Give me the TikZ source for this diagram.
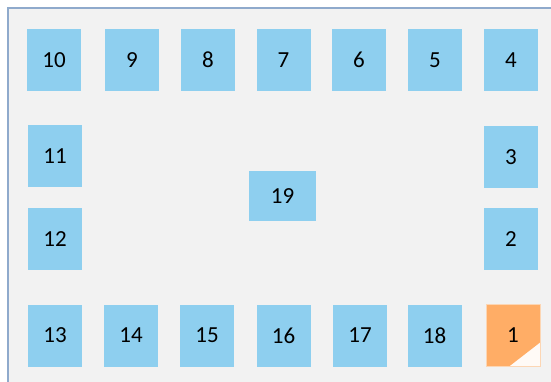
\documentclass[tikz,border=0pt]{standalone}
\usepackage{fontspec}
\setmainfont{Carlito}
\usepackage{tikz}
\usetikzlibrary{positioning, calc}
\definecolor{roomgray}{RGB}{242, 242, 242}
\definecolor{roomborder}{RGB}{143, 170, 204}
\definecolor{seatblue}{RGB}{142, 207, 239}
\definecolor{seatorange}{RGB}{255, 173, 102}
\definecolor{seatedge}{RGB}{252, 214, 180}

\begin{document}
\begin{tikzpicture}[x=1pt, y=-1pt,
    seat/.style={fill=seatblue, minimum width=54pt, minimum height=62pt, inner sep=0pt,
          font=\fontsize{23}{23}\selectfont},
    seatstart/.style={seat, fill=white!88!seatedge, draw=seatedge, line width=0.8pt,
          path picture={\fill[seatorange] (path picture bounding box.north west)
              -- (path picture bounding box.north east)
              -- ($(path picture bounding box.north east)+(0,-38pt)$)
              -- ($(path picture bounding box.south west)+(23pt,0)$)
              -- (path picture bounding box.south west) -- cycle;}}]
    \useasboundingbox (0,0) rectangle (551,382);
    % room
    \draw[fill=roomgray, draw=roomborder, line width=1.5pt] (8,8) rectangle (580,410);
    % top row
    \foreach \n/\x in {10/54, 9/132, 8/208, 7/283.5, 6/359, 5/435, 4/511}
        \node[seat] (s\n) at (\x,60) {\n};
    % side columns
    \node[seat] (s3) at (511,157) {3};
    \node[seat] (s2) at (511,239) {2};
    \node[seat] (s11) at (55,156) {11};
    \node[seat] (s12) at (55,239) {12};
    % bottom row
    \foreach \n/\x in {13/55, 14/131, 15/207, 16/283.5, 17/360, 18/434.5}
        \node[seat] (s\n) at (\x,335.5) {\n};
    \node[seatstart] (s1) at (513,335.5) {1};
    % middle
    \node[seat, minimum width=67pt, minimum height=50pt] (s19) at (282.5,196) {19};
\end{tikzpicture}
\end{document}
